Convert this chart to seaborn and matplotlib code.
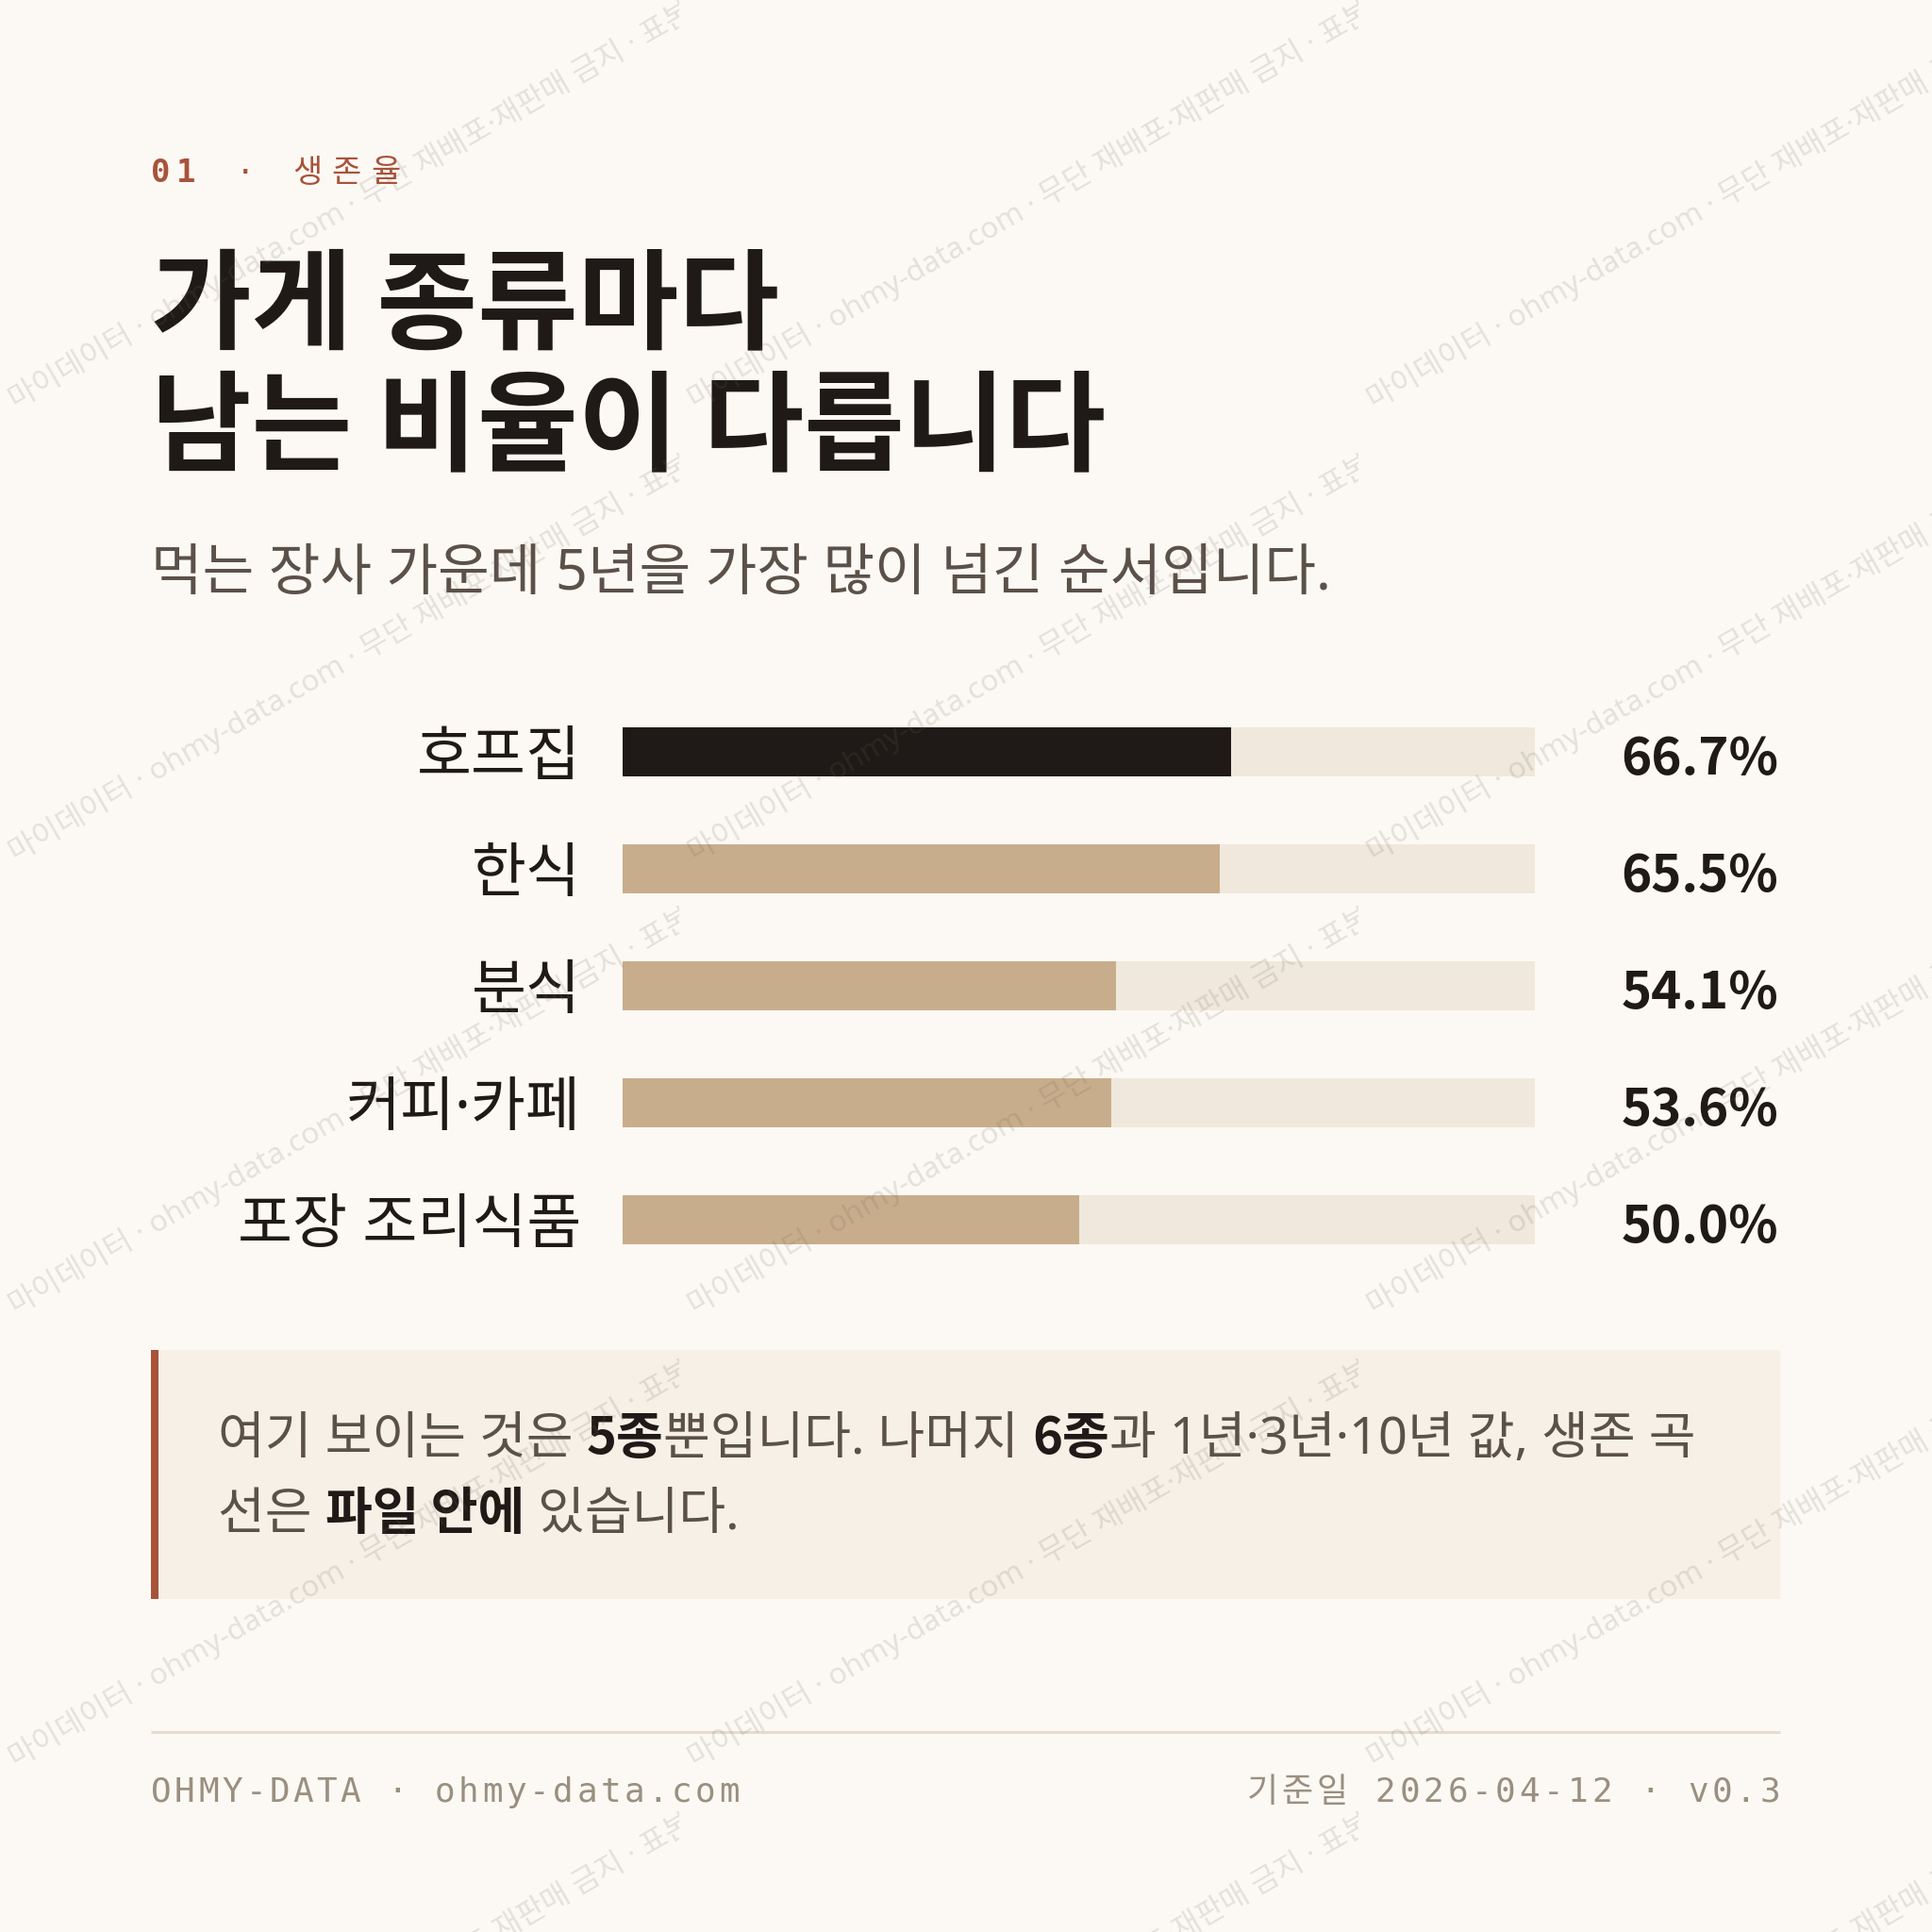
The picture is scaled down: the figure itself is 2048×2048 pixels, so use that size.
import numpy as np
import pandas as pd
import seaborn as sns
import matplotlib
matplotlib.use("Agg")
import matplotlib.pyplot as plt
from matplotlib import font_manager as fm
from matplotlib.font_manager import FontProperties
from matplotlib.transforms import blended_transform_factory, Bbox, TransformedBbox
from matplotlib.patches import Rectangle

# ---------------- data ----------------
categories = ["호프집", "한식", "분식", "커피·카페", "포장 조리식품"]
survival_5y = [66.7, 65.5, 54.1, 53.6, 50.0]
scale_max = 100
highlight = "호프집"

kicker_num = "01"
kicker_txt = " · 생존율"
title_lines = ["가게 종류마다", "남는 비율이 다릅니다"]
subtitle = "먹는 장사 가운데 5년을 가장 많이 넘긴 순서입니다."
note_line1 = [("여기 보이는 것은 ", False), ("5종", True), ("뿐입니다. 나머지 ", False),
              ("6종", True), ("과 1년·3년·10년 값, 생존 곡", False)]
note_line2 = [("선은 ", False), ("파일 안에", True), (" 있습니다.", False)]
footer_left = "OHMY-DATA · ohmy-data.com"
footer_right = "기준일 2026-04-12 · v0.3"
watermark = "마이데이터 · ohmy-data.com · 무단 재배포·재판매 금지 · 표본"

# ---------------- style ----------------
W = H = 2048
DPI = 100
PT = 72.0 / DPI

BG = "#fcf9f4"
INK = "#1f1a17"
TAN = "#c8ad8c"
TRACK = "#f0e8dc"
RUST = "#a9533a"
SUB = "#5b5149"
NOTE_BG = "#f6f0e6"
RULE = "#e4dccd"
FOOT = "#9a8f80"
WM = (0.43, 0.39, 0.35, 0.17)

KR = "Noto Sans CJK KR"
REG = ["Noto Sans", KR]        # narrow Latin punctuation, Hangul from CJK
BOLD = [KR]
MONO = ["DejaVu Sans Mono", KR]

sns.set_theme(style="white")
plt.rcParams["font.family"] = [KR, "DejaVu Sans"]


def _font_for(ch, families, weight):
    font = None
    for fam in families:
        f = fm.get_font(fm.findfont(FontProperties(family=fam, weight=weight)))
        if font is None:
            font = f
        if f.get_char_index(ord(ch)) != 0:
            return f
    return font


def advance(s, families, weight, size_px):
    total = 0.0
    for ch in s:
        f = _font_for(ch, families, weight)
        f.set_size(size_px * PT, DPI)
        g = f.load_char(ord(ch))
        total += g.linearHoriAdvance / 65536.0
    return total


fig = plt.figure(figsize=(W / DPI, H / DPI), dpi=DPI, facecolor=BG)
cv = fig.add_axes([0, 0, 1, 1])
cv.set_xlim(0, W)
cv.set_ylim(H, 0)
cv.axis("off")
cv.set_zorder(0)

L, R = 160, 1887


def spaced(x, y, s, families, weight, size_px, spacing, color, align="left"):
    widths = [advance(c, families, weight, size_px) for c in s]
    total = sum(widths) + spacing * (len(s) - 1)
    if align == "right":
        x = x - total
    for c, w in zip(s, widths):
        cv.text(x, y, c, family=families, weight=weight, fontsize=size_px * PT,
                color=color, ha="left", va="baseline")
        x += w + spacing
    return x


# kicker
xk = spaced(L, 193, kicker_num, MONO, "bold", 34, 6, RUST)
spaced(xk + 6, 193, kicker_txt, MONO, "normal", 34, 10, RUST)

# title (fit widths)
t_size = 1012 / advance(title_lines[1], BOLD, "bold", 100) * 100
cv.text(L, 360, title_lines[0], family=BOLD, weight="bold", fontsize=t_size * PT,
        color=INK, ha="left", va="baseline")
cv.text(L, 489, title_lines[1], family=BOLD, weight="bold", fontsize=t_size * PT,
        color=INK, ha="left", va="baseline")

# subtitle
s_size = 1252 / advance(subtitle, REG, "light", 100) * 100
cv.text(L, 625, subtitle, family=REG, weight="light", fontsize=s_size * PT, color=SUB,
        ha="left", va="baseline")

# ---------------- bars ----------------
top_c, step, n = 797, 124, len(categories)
ax_top = top_c - step / 2
ax_bot = ax_top + step * n
x0, x1 = 660, 1627
ax = fig.add_axes([x0 / W, 1 - ax_bot / H, (x1 - x0) / W, (ax_bot - ax_top) / H])
ax.set_zorder(2)
df = pd.DataFrame({"category": categories, "survival": survival_5y})
df["track"] = scale_max
palette = {c: (INK if c == highlight else TAN) for c in categories}
sns.barplot(data=df, y="category", x="track", color=TRACK, saturation=1,
            width=0.42, orient="h", errorbar=None, ax=ax)
sns.barplot(data=df, y="category", x="survival", hue="category", palette=palette,
            saturation=1, width=0.42, orient="h", errorbar=None, dodge=False,
            legend=False, ax=ax)
for p in ax.patches:
    p.set_edgecolor("none")
    p.set_linewidth(0)
ax.set_xlim(0, scale_max)
ax.set_ylim(n - 0.5, -0.5)
ax.set_facecolor("none")
for sp in ax.spines.values():
    sp.set_visible(False)
ax.set_xticks([])
ax.set_xlabel("")
ax.set_ylabel("")
ax.tick_params(axis="y", length=0, pad=44 * PT, labelsize=63 * PT, labelcolor=INK)
for lab in ax.get_yticklabels():
    lab.set_fontfamily(REG)

tr = blended_transform_factory(ax.transAxes, ax.transData)
v_right = (1885 - x0) / (x1 - x0)
v_size = 167 / advance("66.7%", BOLD, "bold", 100) * 100
for i, v in enumerate(survival_5y):
    ax.text(v_right, i + 0.19, f"{v:.1f}%", transform=tr, ha="right", va="baseline",
            family=BOLD, weight="bold", fontsize=v_size * PT, color=INK,
            clip_on=False)

# ---------------- note box ----------------
nb_top, nb_bot = 1431, 1695
cv.add_patch(Rectangle((L, nb_top), R - L, nb_bot - nb_top, facecolor=NOTE_BG,
                       edgecolor="none", zorder=1))
cv.add_patch(Rectangle((L, nb_top), 8, nb_bot - nb_top, facecolor=RUST,
                       edgecolor="none", zorder=2))


def run_width(parts, size_px):
    return sum(advance(t, BOLD if b else REG, "bold" if b else "normal", size_px)
               for t, b in parts)


n_size = 1568 / run_width(note_line1, 100) * 100


def runs(x, y, parts, size_px):
    for txt, bold in parts:
        fam = BOLD if bold else REG
        w = "bold" if bold else "normal"
        cv.text(x, y, txt, family=fam, weight=w, fontsize=size_px * PT,
                color=(INK if bold else SUB), ha="left", va="baseline", zorder=3)
        x += advance(txt, fam, w, size_px)


runs(231, 1541, note_line1, n_size)
runs(231, 1621, note_line2, n_size)

# ---------------- footer ----------------
cv.plot([L, R], [1836, 1836], color=RULE, lw=3 * PT, solid_capstyle="butt")
spaced(L, 1910, footer_left, MONO, "normal", 36, 3.4, FOOT)
spaced(R, 1910, footer_right, MONO, "normal", 36, 3.8, FOOT, align="right")

# ---------------- watermark ----------------
wm_ax = fig.add_axes([0, 0, 1, 1])
wm_ax.set_xlim(0, W)
wm_ax.set_ylim(H, 0)
wm_ax.axis("off")
wm_ax.set_zorder(10)
wm_ax.patch.set_alpha(0)
tile_w, tile_h = 720, 480
ang = 30
start = 16
wm_size = ((720 - start) / np.cos(np.radians(ang))) / (advance(watermark, REG, "normal", 100) - 55) * 100
for tx in range(0, W, tile_w):
    for ty in range(0, W, tile_h):
        t = wm_ax.text(tx + start, ty + 443 - start * np.tan(np.radians(ang)), watermark,
                       family=REG, fontsize=wm_size * PT,
                       color=WM, rotation=ang, rotation_mode="anchor",
                       ha="left", va="baseline", clip_on=True)
        t.set_clip_box(TransformedBbox(Bbox([[tx, ty], [tx + tile_w, ty + tile_h]]),
                                       wm_ax.transData))

fig.savefig("out.png", dpi=DPI, facecolor=BG)
